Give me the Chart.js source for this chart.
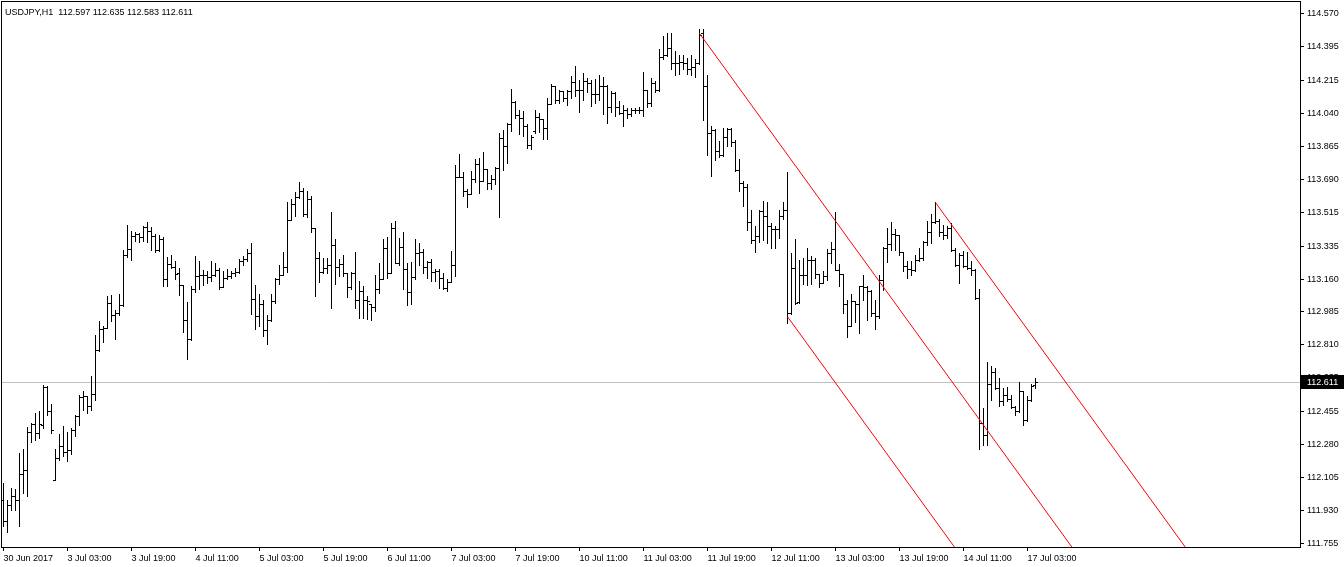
<!DOCTYPE html>
<html>
<head>
<meta charset="utf-8">
<script src="https://cdn.jsdelivr.net/npm/chart.js@4.4.1/dist/chart.umd.min.js"></script>
<style>
  html, body { margin: 0; padding: 0; background: #fff; }
  canvas { display: block; }
</style>
</head>
<body>
<canvas id="myChart" width="1344" height="567"></canvas>
<script>
// USDJPY H1, 30 Jun 2017 11:00 .. 17 Jul 2017 05:00 (one bar per hour)
const symbol = 'USDJPY,H1';

const opens = [
111.989,111.874,111.962,112.010,111.989,112.125,112.148,112.348,112.391,112.343,
112.387,112.589,112.461,112.095,112.210,112.272,112.240,112.254,112.357,112.431,
112.532,112.538,112.488,112.550,112.782,112.892,112.902,113.033,112.971,112.980,
113.023,113.288,113.320,113.391,113.401,113.384,113.437,113.414,113.391,113.313,
113.373,113.161,113.240,113.224,113.190,113.126,112.945,112.839,113.105,113.175,
113.184,113.184,113.172,113.184,113.206,113.119,113.167,113.175,113.193,113.197,
113.255,113.264,113.299,113.052,112.963,113.025,112.889,112.945,113.043,113.161,
113.184,113.225,113.476,113.561,113.597,113.630,113.503,113.586,113.432,113.273,
113.199,113.220,113.237,113.338,113.223,113.241,113.193,113.117,113.193,113.051,
113.096,113.048,113.025,113.013,113.108,113.161,113.326,113.193,113.432,113.246,
113.331,113.214,113.092,113.172,113.296,113.303,113.225,113.250,113.197,113.202,
113.167,113.113,113.145,113.237,113.703,113.703,113.630,113.614,113.692,113.772,
113.683,113.742,113.668,113.692,113.747,113.910,113.869,113.981,114.099,114.029,
114.016,113.975,113.871,113.945,114.021,114.011,113.963,114.090,114.184,114.110,
114.157,114.122,114.157,114.207,114.163,114.163,114.211,114.202,114.140,114.140,
114.184,114.184,114.074,114.149,114.074,114.042,114.057,114.034,114.060,114.060,
114.057,114.163,114.096,114.202,114.163,114.340,114.352,114.388,114.308,114.308,
114.311,114.308,114.273,114.287,114.308,114.464,114.184,113.933,113.950,113.842,
113.816,113.915,113.957,113.887,113.738,113.671,113.650,113.462,113.366,113.391,
113.520,113.494,113.444,113.426,113.426,113.494,113.529,112.977,113.219,113.037,
113.184,113.184,113.260,113.260,113.189,113.140,113.175,113.299,113.320,113.207,
113.189,113.025,112.913,113.042,113.030,113.122,113.118,113.095,112.980,112.962,
113.154,113.325,113.348,113.401,113.396,113.302,113.228,113.214,113.210,113.263,
113.272,113.355,113.408,113.463,113.467,113.408,113.396,113.431,113.313,113.237,
113.285,113.228,113.219,113.210,113.060,112.396,112.334,112.600,112.665,112.582,
112.511,112.546,112.523,112.481,112.458,112.564,112.410,112.516,112.597
];

const highs = [
112.077,111.989,112.051,112.045,112.237,112.258,112.375,112.396,112.449,112.461,
112.596,112.591,112.497,112.258,112.339,112.382,112.346,112.369,112.440,112.546,
112.568,112.541,112.644,112.865,112.936,112.909,113.072,113.077,112.998,113.083,
113.313,113.449,113.414,113.408,113.405,113.444,113.463,113.435,113.401,113.396,
113.384,113.276,113.290,113.254,113.216,113.126,113.037,113.122,113.282,113.255,
113.206,113.202,113.255,113.243,113.220,113.202,113.211,113.202,113.216,113.264,
113.282,113.321,113.349,113.126,113.082,113.048,112.967,113.078,113.167,113.237,
113.306,113.568,113.586,113.621,113.675,113.645,113.627,113.600,113.432,113.306,
113.273,113.273,113.517,113.370,113.268,113.285,113.193,113.197,113.303,113.149,
113.122,113.069,113.030,113.184,113.246,113.374,113.383,113.459,113.466,113.379,
113.411,113.243,113.251,113.374,113.352,113.321,113.255,113.267,113.214,113.211,
113.190,113.161,113.308,113.763,113.825,113.728,113.636,113.733,113.795,113.804,
113.836,113.745,113.715,113.756,113.933,113.949,113.986,114.167,114.105,114.055,
114.052,113.981,113.927,114.057,114.039,114.011,114.119,114.193,114.184,114.166,
114.157,114.166,114.237,114.290,114.219,114.255,114.228,114.219,114.223,114.241,
114.234,114.191,114.157,114.152,114.104,114.083,114.069,114.069,114.069,114.074,
114.258,114.166,114.228,114.211,114.382,114.453,114.467,114.467,114.370,114.352,
114.347,114.334,114.347,114.326,114.488,114.485,114.241,113.975,113.954,113.892,
113.963,113.963,113.963,113.897,113.795,113.680,113.662,113.526,113.444,113.529,
113.572,113.568,113.455,113.444,113.529,113.568,113.727,113.299,113.373,113.260,
113.272,113.326,113.281,113.272,113.189,113.202,113.317,113.356,113.515,113.242,
113.189,113.051,113.083,113.042,113.122,113.184,113.122,113.101,113.051,113.184,
113.331,113.431,113.463,113.426,113.396,113.302,113.254,113.254,113.290,113.325,
113.361,113.467,113.506,113.568,113.479,113.449,113.440,113.458,113.325,113.299,
113.308,113.302,113.254,113.214,113.108,112.476,112.718,112.697,112.688,112.635,
112.582,112.587,112.546,112.488,112.612,112.564,112.538,112.605,112.635
];

const lows = [
111.847,111.815,111.936,111.936,111.851,112.024,112.007,112.293,112.307,112.316,
112.369,112.440,112.343,112.091,112.201,112.219,112.192,112.233,112.325,112.387,
112.467,112.449,112.467,112.520,112.776,112.824,112.900,112.936,112.842,112.971,
113.019,113.277,113.260,113.361,113.355,113.364,113.355,113.316,113.302,113.307,
113.125,113.122,113.219,113.161,113.073,112.878,112.733,112.836,113.090,113.105,
113.128,113.137,113.149,113.175,113.108,113.117,113.161,113.167,113.175,113.193,
113.232,113.255,112.972,112.892,112.910,112.857,112.813,112.937,113.034,113.131,
113.180,113.197,113.474,113.494,113.591,113.494,113.491,113.409,113.069,113.144,
113.193,113.193,113.007,113.131,113.175,113.175,113.066,113.108,113.007,112.954,
112.954,112.949,112.945,112.990,113.087,113.158,113.167,113.193,113.246,113.237,
113.108,113.021,113.028,113.158,113.237,113.193,113.167,113.149,113.149,113.113,
113.105,113.096,113.144,113.175,113.703,113.600,113.544,113.613,113.675,113.618,
113.680,113.636,113.639,113.662,113.491,113.737,113.777,113.945,114.016,113.928,
113.919,113.857,113.850,113.936,113.940,113.904,113.904,114.087,114.096,114.096,
114.104,114.083,114.122,114.131,114.046,114.110,114.152,114.078,114.096,114.108,
114.034,113.986,114.046,114.025,114.034,113.975,114.016,114.025,114.039,114.042,
114.025,114.072,114.078,114.152,114.157,114.329,114.343,114.276,114.246,114.251,
114.273,114.251,114.241,114.234,114.304,114.007,113.821,113.706,113.791,113.809,
113.812,113.865,113.865,113.733,113.626,113.547,113.419,113.352,113.303,113.356,
113.366,113.352,113.326,113.326,113.379,113.480,112.924,112.972,113.025,113.034,
113.131,113.126,113.131,113.166,113.118,113.140,113.157,113.246,113.207,113.122,
112.977,112.853,112.910,112.931,112.871,113.048,112.945,112.966,112.892,112.954,
113.104,113.249,113.316,113.316,113.290,113.201,113.166,113.184,113.201,113.254,
113.263,113.343,113.352,113.458,113.391,113.370,113.378,113.308,113.231,113.139,
113.224,113.214,113.184,113.054,112.258,112.281,112.276,112.520,112.577,112.485,
112.493,112.511,112.476,112.440,112.455,112.387,112.405,112.511,112.583
];

const closes = [
111.874,111.962,112.010,111.989,112.125,112.148,112.348,112.391,112.343,112.391,
112.589,112.461,112.360,112.210,112.272,112.240,112.254,112.357,112.431,112.532,
112.538,112.488,112.550,112.782,112.892,112.902,113.033,112.971,112.980,113.023,
113.288,113.320,113.391,113.401,113.384,113.437,113.414,113.391,113.313,113.373,
113.161,113.240,113.224,113.187,113.126,112.945,112.839,113.105,113.175,113.184,
113.184,113.172,113.184,113.206,113.119,113.167,113.175,113.193,113.197,113.255,
113.264,113.299,113.052,112.963,113.025,112.889,112.945,113.043,113.161,113.184,
113.225,113.476,113.561,113.597,113.630,113.503,113.586,113.432,113.273,113.199,
113.220,113.237,113.338,113.223,113.241,113.193,113.117,113.193,113.051,113.096,
113.048,113.043,113.013,113.108,113.161,113.326,113.193,113.432,113.246,113.331,
113.214,113.092,113.172,113.296,113.303,113.225,113.250,113.197,113.202,113.167,
113.113,113.145,113.237,113.703,113.703,113.630,113.614,113.692,113.772,113.683,
113.742,113.668,113.692,113.747,113.910,113.869,113.981,114.099,114.029,114.016,
113.975,113.871,113.915,114.021,114.011,113.963,114.090,114.184,114.110,114.157,
114.122,114.157,114.207,114.163,114.163,114.211,114.202,114.140,114.140,114.184,
114.184,114.074,114.149,114.074,114.042,114.057,114.034,114.060,114.060,114.057,
114.163,114.096,114.202,114.163,114.340,114.352,114.388,114.308,114.308,114.311,
114.308,114.273,114.287,114.308,114.458,114.184,113.933,113.950,113.842,113.816,
113.915,113.957,113.887,113.738,113.671,113.650,113.462,113.366,113.391,113.520,
113.494,113.444,113.426,113.426,113.494,113.529,112.977,113.219,113.034,113.184,
113.184,113.260,113.260,113.189,113.140,113.175,113.299,113.320,113.207,113.189,
113.025,112.913,113.042,113.030,113.122,113.118,113.095,112.980,112.962,113.154,
113.325,113.348,113.401,113.396,113.302,113.228,113.214,113.210,113.263,113.272,
113.355,113.408,113.463,113.467,113.408,113.396,113.431,113.313,113.237,113.285,
113.228,113.219,113.210,113.060,112.396,112.334,112.600,112.665,112.582,112.511,
112.546,112.523,112.481,112.458,112.564,112.410,112.516,112.591,112.611
];

// time axis: a label every 16 bars
const timeTickBars = [0,16,32,48,64,80,96,112,128,144,160,176,192,208,224,240,256];
const timeTickLabels = ['30 Jun 2017','3 Jul 03:00','3 Jul 19:00','4 Jul 11:00','5 Jul 03:00',
  '5 Jul 19:00','6 Jul 11:00','7 Jul 03:00','7 Jul 19:00','10 Jul 11:00','11 Jul 03:00',
  '11 Jul 19:00','12 Jul 11:00','13 Jul 03:00','13 Jul 19:00','14 Jul 11:00','17 Jul 03:00'];

const priceTicks = [114.570,114.395,114.215,114.040,113.865,113.690,113.515,113.335,113.160,
  112.985,112.810,112.635,112.455,112.280,112.105,111.930,111.755];

// three parallel channel rays (bar index, price)
const channelTop = [{x: 174, y: 114.464}, {x: 272, y: 111.593}];
const channelMid = [{x: 196, y: 112.960}, {x: 242, y: 111.612}];
const channelLow = [{x: 233, y: 113.566}, {x: 300, y: 111.603}];

const lastClose = closes[closes.length - 1];
const fmt = v => v.toFixed(3);

Chart.defaults.font.family = "'Liberation Sans', Arial, sans-serif";
Chart.defaults.font.size = 9;
Chart.defaults.color = '#000';

// OHLC bars + bid line, drawn under the channel lines
const ohlcBars = {
  id: 'ohlcBars',
  beforeDatasetsDraw(chart) {
    const {ctx, chartArea: a, scales: {x, y}} = chart;
    ctx.save();
    ctx.beginPath();
    ctx.rect(a.left, a.top, a.right - a.left, a.bottom - a.top);
    ctx.clip();

    const by = Math.round(y.getPixelForValue(lastClose)) + 0.5;
    ctx.strokeStyle = '#c0c0c0';
    ctx.lineWidth = 1;
    ctx.beginPath();
    ctx.moveTo(a.left, by);
    ctx.lineTo(a.right, by);
    ctx.stroke();

    ctx.fillStyle = '#000';
    for (let i = 0; i < closes.length; i++) {
      const px = Math.floor(x.getPixelForValue(i));
      const yh = Math.round(y.getPixelForValue(highs[i]));
      const yl = Math.round(y.getPixelForValue(lows[i]));
      const yo = Math.round(y.getPixelForValue(opens[i]));
      const yc = Math.round(y.getPixelForValue(closes[i]));
      ctx.fillRect(px, yh, 1, yl - yh + 1);
      ctx.fillRect(px - 2, yo, 2, 1);
      ctx.fillRect(px + 1, yc, 2, 1);
    }
    ctx.restore();
  },
  afterDraw(chart) {
    const {ctx, chartArea: a, scales: {y}} = chart;
    ctx.save();
    // frame
    ctx.strokeStyle = '#000';
    ctx.lineWidth = 1;
    ctx.strokeRect(a.left - 0.5, a.top - 0.5, a.right - a.left + 1, a.bottom - a.top + 1);
    // top-left info line
    ctx.fillStyle = '#000';
    ctx.font = Chart.helpers.toFont(Chart.defaults.font).string;
    ctx.textBaseline = 'alphabetic';
    ctx.textAlign = 'left';
    const n = closes.length - 1;
    ctx.fillText(symbol + '  ' + [opens[n], highs[n], lows[n], closes[n]].map(fmt).join(' '), a.left + 3, a.top + 13);
    // bid price box
    const by = Math.round(y.getPixelForValue(lastClose));
    ctx.fillStyle = '#000';
    ctx.fillRect(a.right + 1, by - 7, chart.width - a.right - 1, 14);
    ctx.fillStyle = '#fff';
    ctx.textBaseline = 'middle';
    ctx.fillText(fmt(lastClose), a.right + 7, by + 0.5);
    ctx.restore();
  }
};

const redLine = data => ({
  type: 'line',
  data: data,
  borderColor: '#ff0000',
  borderWidth: 1,
  pointRadius: 0,
  tension: 0,
  fill: false
});

const config = {
  type: 'line',
  data: {
    datasets: [redLine(channelTop), redLine(channelMid), redLine(channelLow)]
  },
  options: {
    responsive: false,
    animation: false,
    events: [],
    layout: { padding: { left: 2, top: 2, right: 0, bottom: 0 } },
    plugins: { legend: { display: false }, tooltip: { enabled: false }, title: { display: false } },
    scales: {
      x: {
        type: 'linear',
        min: -0.375,
        max: 324.125,
        offset: false,
        border: { display: false },
        grid: { drawOnChartArea: false, drawTicks: true, tickLength: 4, color: '#000' },
        afterBuildTicks: s => { s.ticks = timeTickBars.map(v => ({ value: v })); },
        afterFit: s => { s.height = 20; s.paddingLeft = 0; s.paddingRight = 0; },
        ticks: {
          autoSkip: false,
          maxRotation: 0,
          align: 'start',
          padding: 2,
          callback: (v, i) => timeTickLabels[i]
        }
      },
      y: {
        type: 'linear',
        position: 'right',
        min: 111.737,
        max: 114.631,
        border: { display: false },
        grid: { drawOnChartArea: false, drawTicks: true, tickLength: 4, color: '#000' },
        afterBuildTicks: s => { s.ticks = priceTicks.map(v => ({ value: v })); },
        afterFit: s => { s.width = 44; s.paddingTop = 0; s.paddingBottom = 0; },
        ticks: {
          padding: 3,
          callback: v => fmt(v)
        }
      }
    }
  },
  plugins: [ohlcBars]
};

var myChart = new Chart(document.getElementById('myChart'), config);
</script>
</body>
</html>
